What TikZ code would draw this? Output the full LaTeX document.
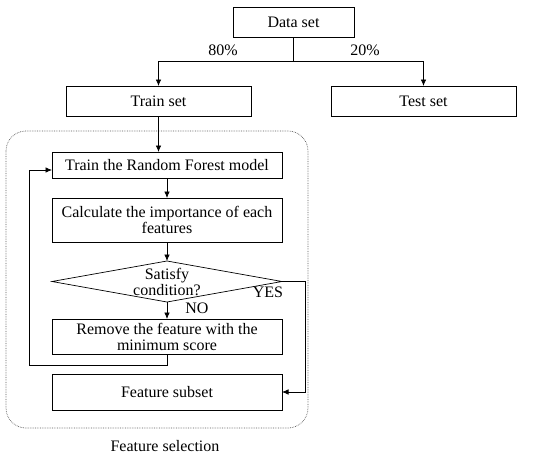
\documentclass[tikz,border=0pt]{standalone}
\usepackage{fontspec}
\setmainfont{Liberation Serif}
\usetikzlibrary{shapes.geometric,arrows.meta}
\begin{document}
\begin{tikzpicture}[x=1pt,y=-1pt,
  every node/.style={font=\fontsize{16}{16}\selectfont},
  box/.style={draw,line width=0.7pt,rectangle,inner sep=0pt,outer sep=0pt,align=center},
  arr/.style={line width=0.7pt,-{Latex[length=6.5pt,width=5.5pt]}},
  ln/.style={line width=0.7pt},
  lbl/.style={inner sep=0pt}]
\useasboundingbox (0,0) rectangle (550,458);
% dotted frame
\draw[black!65,densely dotted,line width=0.7pt,rounded corners=20pt] (6,131) rectangle (308,428);
% nodes
\node[box,minimum width=121pt,minimum height=30pt] (data) at (293.5,22) {Data set};
\node[box,minimum width=185pt,minimum height=30pt] (train) at (158.5,101) {Train set};
\node[box,minimum width=185pt,minimum height=30pt] (test) at (423.5,101) {Test set};
\node[box,minimum width=230pt,minimum height=26pt] (rf) at (167,165) {Train the Random Forest model};
\node[box,minimum width=230pt,minimum height=44pt] (calc) at (167,220) {Calculate the importance of each\\features};
\node[draw,line width=0.7pt,diamond,minimum width=230pt,minimum height=41pt,inner sep=0pt,outer sep=0pt] (cond) at (167,281.5) {};
\node[lbl,align=center] (condtxt) at (167,281.5) {Satisfy\\condition?};
\node[box,minimum width=230pt,minimum height=35pt] (remove) at (167,336.5) {Remove the feature with the\\minimum score};
\node[box,minimum width=230pt,minimum height=36pt] (subset) at (167,392) {Feature subset};
% labels
\node[lbl] (p80) at (223,50) {80\%};
\node[lbl] (p20) at (365,50) {20\%};
\node[lbl] (yes) at (268,292) {YES};
\node[lbl] (no) at (197,308) {NO};
\node[lbl] (fs) at (165,446) {Feature selection};
% coordinates
\coordinate (sp) at (293.5,61);
\coordinate (fb1) at (167,365);
\coordinate (fb2) at (29,365);
\coordinate (fb3) at (29,170);
\coordinate (yy1) at (305,281.5);
\coordinate (yy2) at (305,392);
% connectors
\draw[ln] (data.south) -- (sp);
\draw[arr] (sp) -| (train.north);
\draw[arr] (sp) -| (test.north);
\draw[arr] (train.south) -- (train.south |- rf.north);
\draw[arr] (rf) -- (calc);
\draw[arr] (calc) -- (cond.north);
\draw[arr] (cond.south) -- (remove.north);
\draw[arr] (remove.south) -- (fb1) -- (fb2) -- (fb3) -- (fb3 -| rf.west);
\draw[arr] (cond.east) -- (yy1) -- (yy2) -- (subset.east);
\end{tikzpicture}
\end{document}
